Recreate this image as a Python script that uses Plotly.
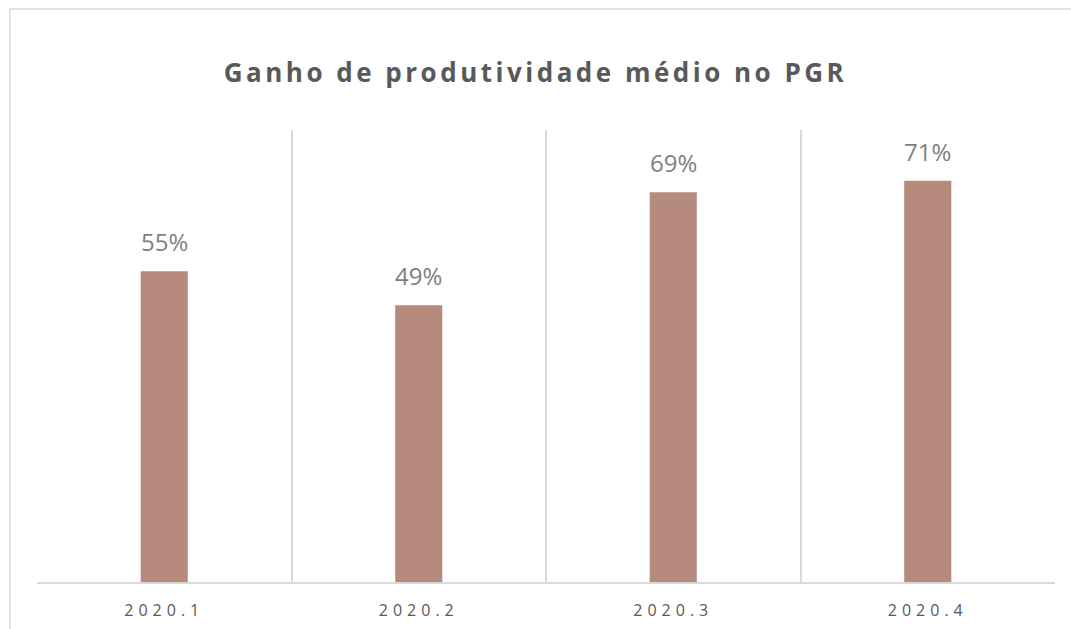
import plotly.graph_objects as go

categories = ["2020.1", "2020.2", "2020.3", "2020.4"]
values = [0.55, 0.49, 0.69, 0.71]
labels = ["55%", "49%", "69%", "71%"]
title_text = "Ganho de produtividade médio no PGR"

W, H = 1071, 629
L, R, T, B = 37, 16, 130, 47
pw, ph = W - L - R, H - T - B

fig = go.Figure()
fig.add_trace(go.Bar(
    x=categories, y=values, width=0.185,
    marker=dict(color="#B68A7D", line=dict(width=0)),
    hoverinfo="skip",
))

annotations = []
for i, (v, t) in enumerate(zip(values, labels)):
    annotations.append(dict(x=i, y=v, xref="x", yref="y", text=t, showarrow=False,
                            yanchor="bottom", yshift=11,
                            font=dict(family="Open Sans", size=24, color="#7F7F7F")))

# chart-area border (left and top edges visible)
bx = (10 - L) / pw
by = (H - B - 9) / ph
shapes = [
    dict(type="line", xref="paper", yref="paper", x0=bx, x1=bx, y0=by, y1=-0.3,
         line=dict(color="#D9D9D9", width=1.5)),
    dict(type="line", xref="paper", yref="paper", x0=bx, x1=1.1, y0=by, y1=by,
         line=dict(color="#D9D9D9", width=1.5)),
]

fig.update_layout(
    width=W, height=H,
    margin=dict(l=L, r=R, t=T, b=B, autoexpand=False),
    paper_bgcolor="white", plot_bgcolor="white",
    showlegend=False,
    annotations=annotations,
    shapes=shapes,
    title=dict(text=title_text, x=0.5, xanchor="center", y=1 - 73 / H, yanchor="middle",
               yref="container", automargin=False,
               font=dict(family="Open Sans", size=26, color="#595959", weight="bold")),
    xaxis=dict(type="category", range=[-0.5, 3.5], tickson="boundaries",
               automargin=False,
               showgrid=True, gridcolor="#D9D9D9", gridwidth=1.5,
               showline=True, linecolor="#D9D9D9", linewidth=1.5,
               ticks="", ticklabelstandoff=13,
               tickfont=dict(family="Open Sans", size=16, color="#595959")),
    yaxis=dict(range=[0, 0.8], visible=False, showgrid=False, zeroline=False,
               automargin=False),
)

js = """
document.body.style.margin = '0';
document.body.style.padding = '0';
var gd = document.getElementById('{plot_id}');
function sp(){
  gd.querySelectorAll('.gtitle').forEach(function(e){e.style.letterSpacing='3.5px';});
  gd.querySelectorAll('.xtick text').forEach(function(e){e.style.letterSpacing='5px';});
}
sp();
gd.on('plotly_afterplot', sp);
"""
fig.write_html("out.html", post_script=js, config={"displayModeBar": False})
